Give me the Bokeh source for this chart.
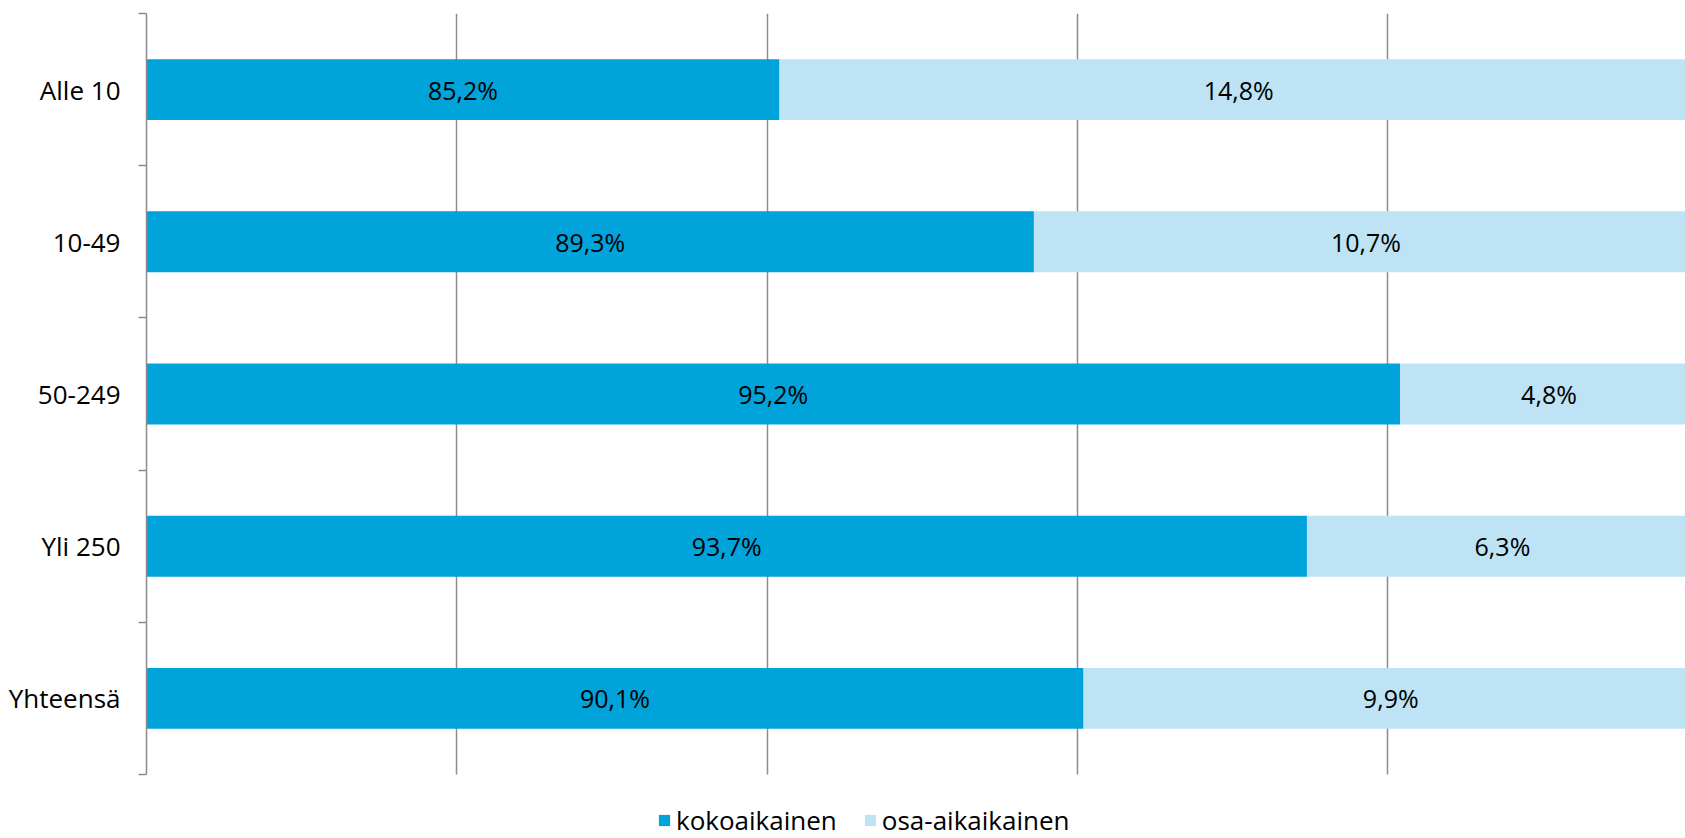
from bokeh.plotting import figure
from bokeh.models import Range1d, FixedTicker, Legend, LegendItem, ColumnDataSource, BoxAnnotation
from bokeh.embed import file_html
from bokeh.resources import INLINE
from bokeh.core.properties import value

# ---- data ----
categories = ["Alle 10", "10-49", "50-249", "Yli 250", "Yhteensä"]
kokoaikainen = [85.2, 89.3, 95.2, 93.7, 90.1]
osa_aikaikainen = [14.8, 10.7, 4.8, 6.3, 9.9]
series_names = ["kokoaikainen", "osa-aikaikainen"]
x_ticks = [75, 80, 85, 90, 95, 100]

# ---- style ----
FONT = "Open Sans"
FS_AX = "26px"
FS_LBL = "25px"
DARK = "#00A3DA"
LIGHT = "#BDE3F5"
GRID = "#8C8C8C"
X0, X1 = 75, 99.8
PITCH_PX = 152.2        # px per category row
LEGEND_ROOM_PX = 64     # room below the plot area for the legend

def fmt(v):
    return f"{v:.1f}".replace(".", ",") + "%"

n = len(categories)
pos = list(range(1, n + 1))
right_light = [a + b for a, b in zip(kokoaikainen, osa_aikaikainen)]

src = ColumnDataSource(dict(
    y=pos,
    koko=kokoaikainen,
    osa=osa_aikaikainen,
    zero=[0] * n,
    total=right_light,
    koko_x=[(X0 + a) / 2 for a in kokoaikainen],
    osa_x=[a + b / 2 for a, b in zip(kokoaikainen, osa_aikaikainen)],
    koko_t=[fmt(v) for v in kokoaikainen],
    osa_t=[fmt(v) for v in osa_aikaikainen],
))

y_bottom = n + 0.5 + LEGEND_ROOM_PX / PITCH_PX

p = figure(width=1685, height=838, output_backend="svg", toolbar_location=None,
           x_range=Range1d(X0, X1), y_range=Range1d(y_bottom, 0.5),
           x_axis_location=None,
           min_border_left=146, min_border_right=0, min_border_top=13, min_border_bottom=0)
p.outline_line_color = None
p.background_fill_color = "white"
p.border_fill_color = "white"

# grids
p.xgrid.ticker = FixedTicker(ticks=x_ticks)
p.xgrid.grid_line_color = GRID
p.xgrid.grid_line_width = 1.5
p.ygrid.grid_line_color = None

# white mask below the category area (legend room)
p.add_layout(BoxAnnotation(top=n + 0.5, bottom=y_bottom, fill_color="white", fill_alpha=1.0,
                           line_color=None, level="underlay"))

r1 = p.hbar(y="y", left="zero", right="koko", height=0.4, source=src,
            fill_color=DARK, line_color=None)
r2 = p.hbar(y="y", left="koko", right="total", height=0.4, source=src,
            fill_color=LIGHT, line_color=None)

p.text(x="koko_x", y="y", text="koko_t", source=src, text_align="center",
       text_baseline="middle", text_font=value(FONT), text_font_size=FS_LBL, text_color="black")
p.text(x="osa_x", y="y", text="osa_t", source=src, text_align="center",
       text_baseline="middle", text_font=value(FONT), text_font_size=FS_LBL, text_color="black")

# y axis
yax = p.yaxis[0]
yax.bounds = (0.5, n + 0.5)
yax.ticker = FixedTicker(ticks=pos, minor_ticks=[i + 0.5 for i in range(0, n + 1)])
yax.major_label_overrides = {i: c for i, c in zip(pos, categories)}
yax.major_tick_out = 0
yax.major_tick_in = 0
yax.minor_tick_out = 8
yax.minor_tick_in = 0
yax.minor_tick_line_color = GRID
yax.minor_tick_line_width = 1.5
yax.axis_line_color = GRID
yax.axis_line_width = 1.5
yax.major_label_standoff = 18
yax.major_label_text_font = FONT
yax.major_label_text_font_size = FS_AX
yax.major_label_text_color = "black"

legend = Legend(items=[LegendItem(label=series_names[0], renderers=[r1]),
                       LegendItem(label=series_names[1], renderers=[r2])],
                orientation="horizontal", location=(511, 0),
                padding=0, margin=0, spacing=26, label_standoff=5,
                glyph_width=14, glyph_height=14,
                label_text_font=FONT, label_text_font_size=FS_AX, label_text_color="black",
                border_line_color=None, background_fill_alpha=0)
p.add_layout(legend, "center")

open("out.html", "w").write(file_html(p, INLINE))
